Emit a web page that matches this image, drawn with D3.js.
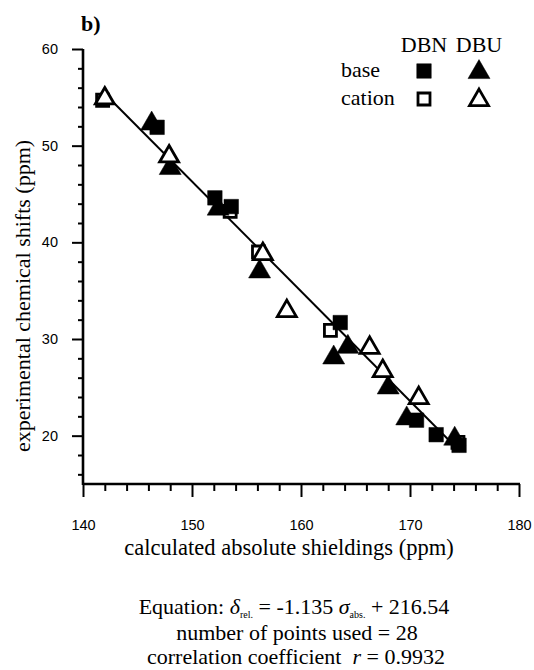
<!DOCTYPE html>
<html>
<head>
<meta charset="utf-8">
<script src="https://cdn.jsdelivr.net/npm/d3@7"></script>
<style>
  html, body { margin: 0; padding: 0; background: #fff; }
  svg { display: block; }
</style>
</head>
<body>
<svg id="chart" width="534" height="670"></svg>
<script>
// ---------------- data ----------------
const xTicks = [140, 150, 160, 170, 180];
const yTicks = [20, 30, 40, 50, 60];
const xMinorTicks = [142, 144, 146, 148, 152, 154, 156, 158, 162, 164, 166, 168, 172, 174, 176, 178];
const yMinorTicks = [16, 18, 22, 24, 26, 28, 32, 34, 36, 38, 42, 44, 46, 48, 52, 54, 56, 58];

// [calculated absolute shielding, experimental chemical shift]
const dbnBase    = [[146.8, 51.9], [152.1, 44.6], [153.6, 43.7], [163.6, 31.7], [170.6, 21.6], [172.4, 20.1], [174.5, 19.0]];
const dbnCation  = [[141.8, 54.7], [153.5, 43.2], [156.1, 39.0], [162.7, 30.9], [174.4, 19.3]];
const dbuBase    = [[146.3, 52.4], [148.0, 47.8], [152.4, 43.6], [156.2, 37.1], [164.3, 29.3], [163.0, 28.2], [168.0, 25.1], [169.7, 21.9], [174.1, 19.8]];
const dbuCation  = [[142.0, 55.0], [147.9, 49.0], [156.5, 38.9], [158.7, 33.0], [166.3, 29.2], [167.5, 26.8], [170.8, 24.0]];

const fitSlope = -1.135;
const fitIntercept = 216.54;
const fitRange = [142.0, 174.6];

const legendColumns = ["DBN", "DBU"];
const legendRows = ["base", "cation"];

const SERIF = "Liberation Serif";
const SANS = "Liberation Sans";

// ---------------- layout ----------------
const svg = d3.select("#chart");
const x = d3.scaleLinear().domain([140, 180]).range([83, 519]);
const y = d3.scaleLinear().domain([15, 60]).range([484, 49]);

function serifText(sel, size) {
  return sel.style("font-family", SERIF).style("font-size", size + "px").attr("fill", "#000");
}

// panel label
serifText(svg.append("text"), 22)
  .attr("x", 81).attr("y", 31)
  .style("font-weight", "bold")
  .text("b)");

// ---------------- axes ----------------
const axisG = svg.append("g");
function styleAxis(g) {
  g.select(".domain").remove();
  g.selectAll("line").attr("stroke", "#000").attr("stroke-width", 2);
  g.selectAll("text").style("font-family", SANS).style("font-size", "14.5px").attr("fill", "#000");
}

axisG.append("g").attr("transform", `translate(${x(140)},0)`)
  .call(d3.axisLeft(y).tickValues(yMinorTicks).tickSize(5).tickSizeOuter(0).tickFormat(""))
  .call(styleAxis);
axisG.append("g").attr("transform", `translate(${x(140)},0)`)
  .call(d3.axisLeft(y).tickValues(yTicks).tickSize(11).tickSizeOuter(0).tickPadding(14))
  .call(styleAxis);
axisG.append("g").attr("transform", `translate(0,${y(15)})`)
  .call(d3.axisBottom(x).tickValues(xMinorTicks).tickSize(7).tickSizeOuter(0).tickFormat(""))
  .call(styleAxis);
axisG.append("g").attr("transform", `translate(0,${y(15)})`)
  .call(d3.axisBottom(x).tickValues(xTicks).tickSize(13).tickSizeOuter(0).tickPadding(23))
  .call(styleAxis);

axisG.append("line")
  .attr("x1", x(140)).attr("x2", x(140)).attr("y1", y(60)).attr("y2", y(15) + 1)
  .attr("stroke", "#000").attr("stroke-width", 2.6);
axisG.append("line")
  .attr("x1", x(140)).attr("x2", x(180) + 1).attr("y1", y(15)).attr("y2", y(15))
  .attr("stroke", "#000").attr("stroke-width", 2.3);

// axis titles
serifText(svg.append("text"), 22)
  .attr("text-anchor", "middle")
  .attr("transform", `translate(30,296) rotate(-90)`)
  .text("experimental chemical shifts (ppm)");

serifText(svg.append("text"), 22.5)
  .attr("text-anchor", "middle")
  .attr("x", 289).attr("y", 555)
  .text("calculated absolute shieldings (ppm)");

// ---------------- fit line ----------------
svg.append("line")
  .attr("x1", x(fitRange[0])).attr("y1", y(fitSlope * fitRange[0] + fitIntercept))
  .attr("x2", x(fitRange[1])).attr("y2", y(fitSlope * fitRange[1] + fitIntercept))
  .attr("stroke", "#000").attr("stroke-width", 2);

// ---------------- markers ----------------
const SQ = 14.5;
const TW = 22, TH = 19;
function squarePath(s) { const h = s / 2; return `M${-h},${-h}H${h}V${h}H${-h}Z`; }
function trianglePath(w, hgt) { return `M0,${-hgt * 0.6}L${w / 2},${hgt * 0.4}L${-w / 2},${hgt * 0.4}Z`; }
function markerPath(shape, filled) {
  return shape === "square" ? squarePath(filled ? SQ : SQ - 2.5) : trianglePath(filled ? TW : TW - 3, filled ? TH : TH - 2.5);
}

function drawSeries(data, shape, filled) {
  svg.append("g").selectAll("path").data(data).join("path")
    .attr("transform", d => `translate(${x(d[0])},${y(d[1])})`)
    .attr("d", markerPath(shape, filled))
    .attr("fill", filled ? "#000" : "#fff")
    .attr("stroke", "#000")
    .attr("stroke-width", filled ? 0.5 : 2.8);
}
drawSeries(dbnCation, "square", false);
drawSeries(dbuBase, "triangle", true);
drawSeries(dbnBase, "square", true);
drawSeries(dbuCation, "triangle", false);

// ---------------- legend ----------------
const legendColX = [424, 479];
const legendRowY = [71, 99];
svg.append("g").selectAll("text").data(legendColumns).join("text")
  .call(s => serifText(s, 22))
  .attr("text-anchor", "middle")
  .attr("x", (d, i) => legendColX[i]).attr("y", 52)
  .text(d => d);
svg.append("g").selectAll("text").data(legendRows).join("text")
  .call(s => serifText(s, 22))
  .attr("x", 341).attr("y", (d, i) => legendRowY[i] + 6)
  .text(d => d);
const legendItems = [
  { col: 0, row: 0, shape: "square", filled: true },
  { col: 1, row: 0, shape: "triangle", filled: true },
  { col: 0, row: 1, shape: "square", filled: false },
  { col: 1, row: 1, shape: "triangle", filled: false }
];
svg.append("g").selectAll("path").data(legendItems).join("path")
  .attr("transform", d => `translate(${legendColX[d.col]},${legendRowY[d.row]})`)
  .attr("d", d => markerPath(d.shape, d.filled))
  .attr("fill", d => d.filled ? "#000" : "#fff")
  .attr("stroke", "#000")
  .attr("stroke-width", d => d.filled ? 0.5 : 2.8);

// ---------------- equation block ----------------
const eq = serifText(svg.append("text"), 22)
  .attr("text-anchor", "middle").attr("x", 294).attr("y", 614);
eq.append("tspan").text("Equation: ");
eq.append("tspan").style("font-style", "italic").text("δ");
eq.append("tspan").style("font-size", "10px").attr("dy", 4).text("rel.");
eq.append("tspan").attr("dy", -4).text(" = -1.135 ");
eq.append("tspan").style("font-style", "italic").text("σ");
eq.append("tspan").style("font-size", "10px").attr("dy", 4).text("abs.");
eq.append("tspan").attr("dy", -4).text(" + 216.54");

serifText(svg.append("text"), 22)
  .attr("text-anchor", "middle").attr("x", 297).attr("y", 640)
  .text("number of points used = 28");

const cc = serifText(svg.append("text"), 22)
  .attr("text-anchor", "middle").attr("x", 296).attr("y", 664);
cc.append("tspan").text("correlation coefficient\u00a0\u00a0");
cc.append("tspan").style("font-style", "italic").text("r");
cc.append("tspan").text(" = 0.9932");
</script>
</body>
</html>
